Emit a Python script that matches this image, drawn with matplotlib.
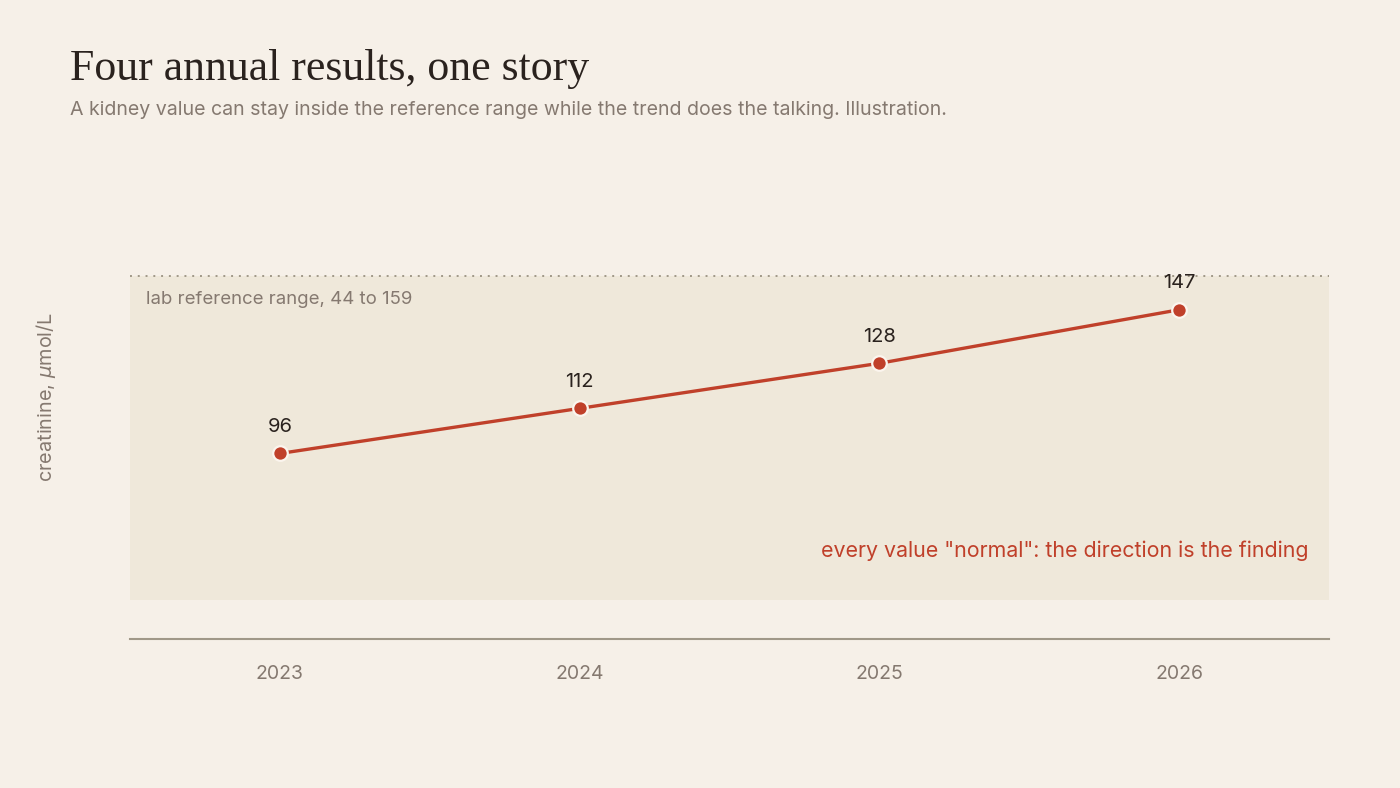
import matplotlib
matplotlib.use("Agg")
import matplotlib.pyplot as plt

years = [2023, 2024, 2025, 2026]
creatinine = [96, 112, 128, 147]
ref_low, ref_high = 44, 159
year_labels = ["2023", "2024", "2025", "2026"]

BG = "#f6f0e8"
BAND = "#efe8da"
RED = "#c0402a"
DARK = "#2a221e"
MUTED = "#857970"
AXIS = "#a09888"

plt.rcParams["font.family"] = ["Inter", "DejaVu Sans"]

fig = plt.figure(figsize=(14, 7.88), dpi=100, facecolor=BG)
ax = fig.add_axes([130/1400, 1-639/788, (1329-130)/1400, (639-230)/788])
ax.set_facecolor(BG)

ax.axhspan(ref_low, ref_high, color=BAND, zorder=0, lw=0)
ax.axhline(ref_high, color=AXIS, lw=1.4, ls=(0, (1, 3)), zorder=1)

ax.plot(years, creatinine, color=RED, lw=2.4, zorder=3, solid_capstyle="round")
ax.plot(years, creatinine, ls="none", marker="o", ms=10.5, mfc=RED,
        mec="#fbf5ee", mew=1.6, zorder=4)
for x, y in zip(years, creatinine):
    ax.annotate(str(y), (x, y), xytext=(0, 12.8), textcoords="offset points",
                ha="center", va="bottom", fontsize=14.5, color=DARK, zorder=5)

ax.set_xlim(2022.5, 2026.5)
ax.set_ylim(30.16, 175.3)
ax.set_xticks(years)
ax.set_xticklabels(year_labels, fontsize=14, color=MUTED)
ax.tick_params(axis="x", length=0, pad=19)
ax.set_yticks([])
for s in ["top", "right", "left"]:
    ax.spines[s].set_visible(False)
ax.spines["bottom"].set_color(AXIS)
ax.spines["bottom"].set_linewidth(1.5)

ax.text(0.0133, ref_high - 5.5, "lab reference range, 44 to 159", transform=ax.get_yaxis_transform(),
        ha="left", va="top", fontsize=13.4, color=MUTED)
ax.text(0.983, 59.3, 'every value "normal": the direction is the finding',
        transform=ax.get_yaxis_transform(), ha="right", va="baseline", fontsize=15.4, color=RED)

fig.text(46/1400, 1-397/788, "creatinine, $\\mu$mol/L", rotation=90, ha="center", va="center",
         fontsize=14.3, color=MUTED)

fig.text(70/1400, 1-80/788, "Four annual results, one story", family=["Liberation Serif", "DejaVu Serif"],
         fontsize=31.6, color=DARK, ha="left", va="baseline")
fig.text(70/1400, 1-115/788, "A kidney value can stay inside the reference range while the trend does the talking. Illustration.",
         fontsize=14.1, color=MUTED, ha="left", va="baseline")

fig.savefig("out.png", dpi=100, facecolor=BG)
